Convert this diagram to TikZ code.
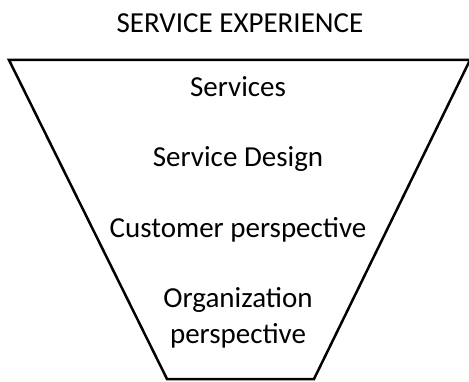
\documentclass[tikz,border=0pt]{standalone}
\usepackage{fontspec}
\setmainfont{Carlito}
\begin{document}
\begin{tikzpicture}[x=1pt,y=-1pt,
  label/.style={anchor=base,inner sep=0pt,font=\fontsize{29}{36}\selectfont},
  funnel/.style={draw=black,line width=2.5pt,line join=miter}]
\useasboundingbox (0,0) rectangle (469,382);
% funnel outline
\coordinate (tl) at (9,60);
\coordinate (tr) at (470,60);
\coordinate (br) at (314,379);
\coordinate (bl) at (167,379);
\draw[funnel] (tl) -- (tr) -- (br) -- (bl) -- cycle;
% title and layers
\node[label] (title) at (240,33) {SERVICE EXPERIENCE};
\node[label] (services) at (238,97) {Services};
\node[label] (design) at (238,167) {Service Design};
\node[label] (customer) at (238,238) {Customer perspective};
\node[label] (org) at (238,308) {Organization};
\node[label] (orgp) at (238,344) {perspective};
\end{tikzpicture}
\end{document}
